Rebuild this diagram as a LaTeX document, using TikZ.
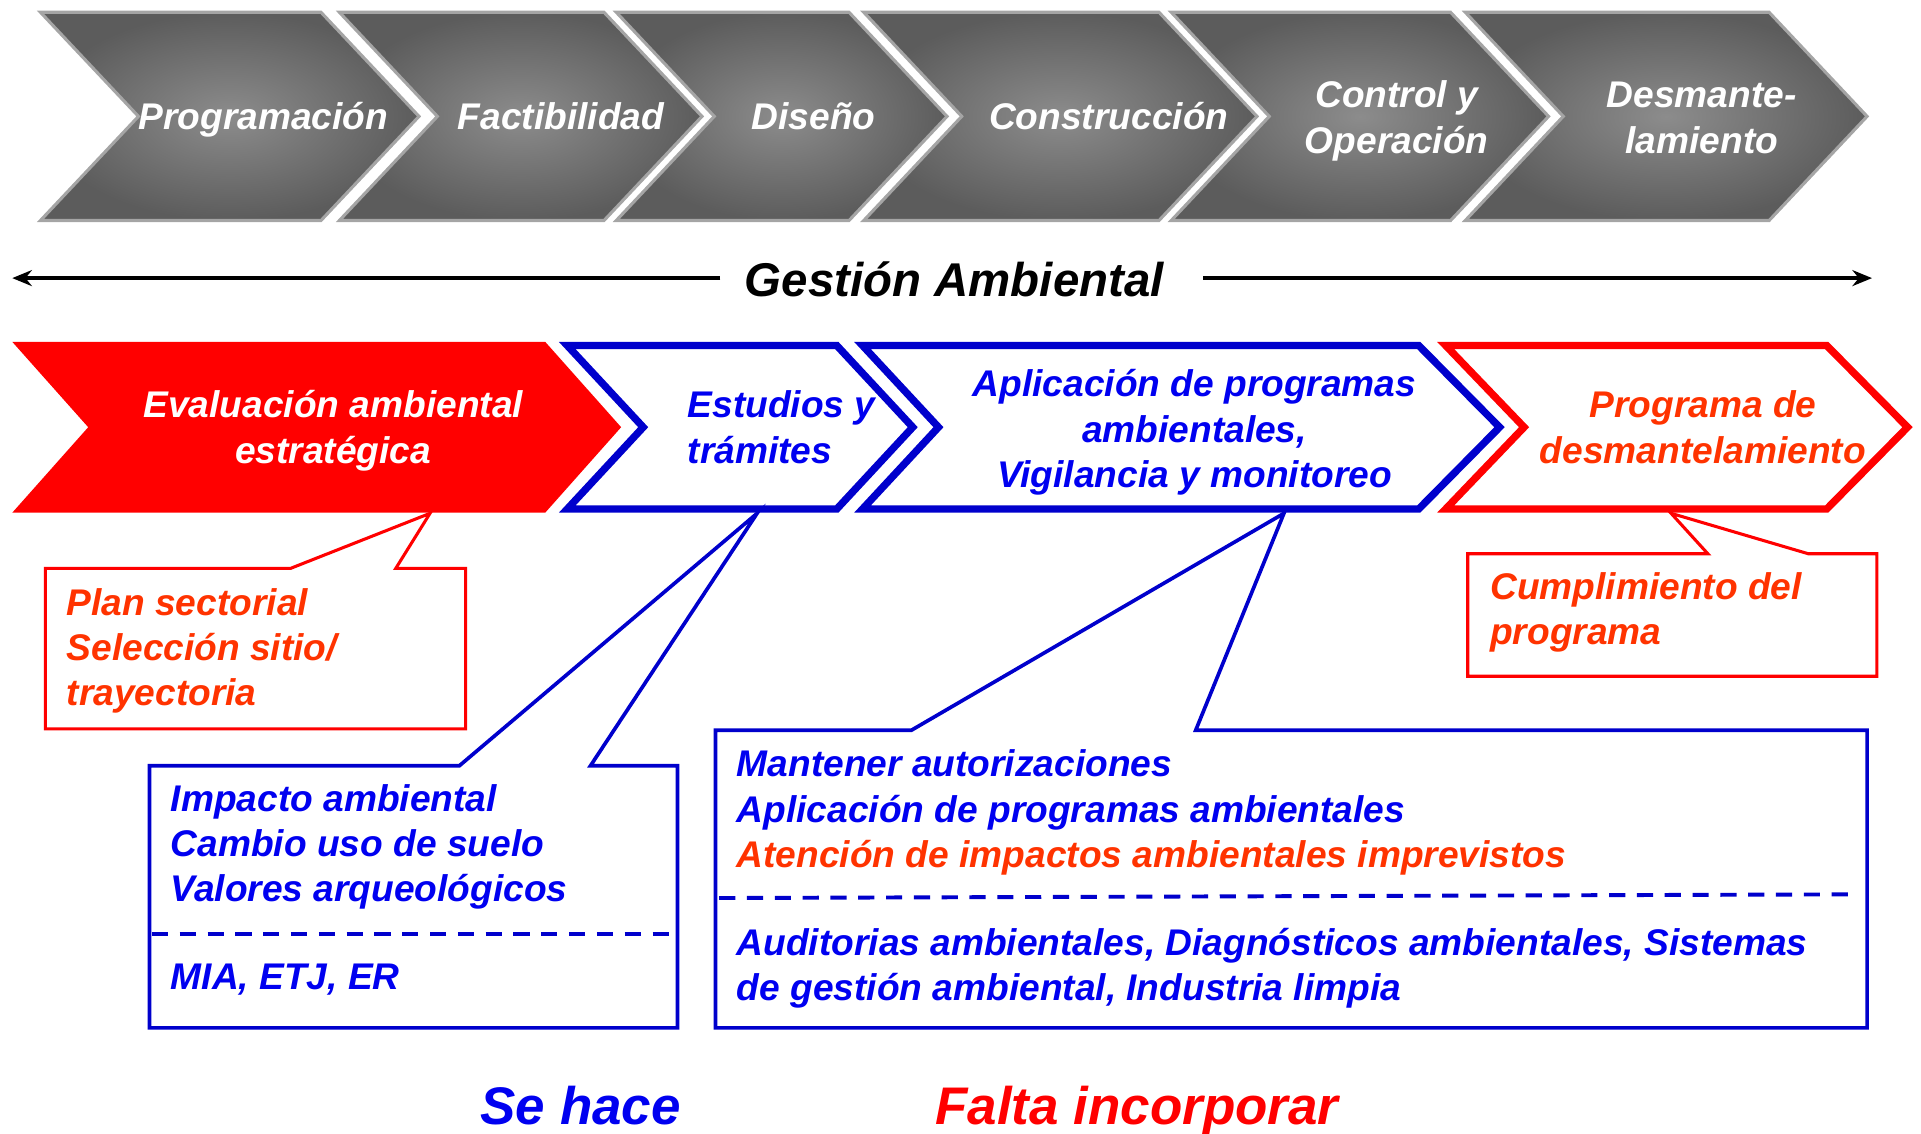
\documentclass[tikz,border=0pt]{standalone}
\usepackage{fontspec}
\setmainfont{Liberation Sans}
\usetikzlibrary{arrows.meta}
\definecolor{btext}{RGB}{0,0,240}
\definecolor{bline}{RGB}{0,0,204}
\definecolor{otext}{RGB}{255,51,0}
\definecolor{rfill}{RGB}{255,0,0}
\definecolor{ginner}{RGB}{140,140,140}
\definecolor{gouter}{RGB}{92,92,92}
\definecolor{gborder}{RGB}{165,165,165}
\tikzset{
  txt/.style={inner sep=0pt, font=\fontsize{15.15pt}{18.5pt}\selectfont\bfseries\itshape},
  graychev/.style={inner color=ginner, outer color=gouter, draw=gborder, line width=1.25pt, line join=miter},
  bluechev/.style={draw=bline, line width=3pt, line join=miter, fill=white},
  redchev/.style={draw=rfill, line width=3pt, line join=miter, fill=white},
  bluecall/.style={draw=bline, line width=1.5pt, line join=miter, fill=white},
  redcall/.style={draw=rfill, line width=1.25pt, line join=miter, fill=white},
  dashsep/.style={draw=bline, line width=1.6pt, dash pattern=on 6.6pt off 4.75pt},
  garrow/.style={draw=black, line width=1.5pt, -{Stealth[length=8pt,width=6.5pt]}}
}
\begin{document}
\begin{tikzpicture}[x=0.5pt,y=-0.5pt]
\useasboundingbox (0,0) rectangle (1568,925);
% top gray chevrons
\shadedraw[graychev] (33,10) -- (262,10) -- (342,95) -- (262,180) -- (33,180) -- (113,95) -- cycle;
\shadedraw[graychev] (277,10) -- (493,10) -- (573,95) -- (493,180) -- (277,180) -- (357,95) -- cycle;
\shadedraw[graychev] (503,10) -- (693,10) -- (773,95) -- (693,180) -- (503,180) -- (583,95) -- cycle;
\shadedraw[graychev] (705,10) -- (946,10) -- (1026,95) -- (946,180) -- (705,180) -- (785,95) -- cycle;
\shadedraw[graychev] (956,10) -- (1184,10) -- (1264,95) -- (1184,180) -- (956,180) -- (1036,95) -- cycle;
\shadedraw[graychev] (1196,10) -- (1444,10) -- (1524,95) -- (1444,180) -- (1196,180) -- (1276,95) -- cycle;
\node[txt, text=white, anchor=base] (p1) at (215,106) {Programación};
\node[txt, text=white, anchor=base] (p2) at (458,106) {Factibilidad};
\node[txt, text=white, anchor=base] (p3) at (664,106) {Diseño};
\node[txt, text=white, anchor=base] (p4) at (905,106) {Construcción};
\node[txt, text=white, anchor=base, align=center] (p5) at (1140,125) {Control y\\Operación};
\node[txt, text=white, anchor=base, align=center] (p6) at (1389,125) {Desmante-\\lamiento};
% Gestion ambiental
\node[inner sep=0pt, font=\fontsize{19.35pt}{23pt}\selectfont\bfseries\itshape, anchor=base] (gest) at (779,242) {Gestión Ambiental};
\coordinate (ga) at (588,227);
\coordinate (gl) at (10,227);
\coordinate (gb) at (982,227);
\coordinate (gr) at (1528,227);
\draw[garrow] (ga) -- (gl);
\draw[garrow] (gb) -- (gr);
% bottom chevrons
\fill[rfill] (10,279) -- (445,279) -- (507,348.7) -- (445,418.5) -- (10,418.5) -- (72,348.7) -- cycle;
\draw[bluechev] (463,282) -- (683,282) -- (745,348.7) -- (683,415.5) -- (463,415.5) -- (525,348.7) -- cycle;
\draw[bluechev] (704,282) -- (1158,282) -- (1224,348.7) -- (1158,415.5) -- (704,415.5) -- (766,348.7) -- cycle;
\draw[redchev] (1180,282) -- (1491,282) -- (1557,348.7) -- (1491,415.5) -- (1180,415.5) -- (1244,348.7) -- cycle;
\node[txt, text=white, anchor=base, align=center] (eae) at (272,378) {Evaluación ambiental\\estratégica};
\node[txt, text=btext, anchor=base west, align=left] (est) at (561,378) {Estudios y\\trámites};
\node[txt, text=btext, anchor=base, align=center] (apl) at (975,398) {Aplicación de programas\\ambientales,\\Vigilancia y monitoreo};
\node[txt, text=otext, anchor=base, align=center] (pdd) at (1390,378) {Programa de\\desmantelamiento};
% callouts
\coordinate (ap1) at (351,419);
\coordinate (ap2) at (618,419);
\coordinate (ap3) at (1048,419);
\coordinate (ap4) at (1364,419);
\draw[redcall] (37,464) -- (237,464) -- (ap1) -- (323,464) -- (380,464) -- (380,595) -- (37,595) -- cycle;
\draw[bluecall] (122,625) -- (375,625) -- (ap2) -- (482,625) -- (553,625) -- (553,839) -- (122,839) -- cycle;
\draw[bluecall] (584,596) -- (744,596) -- (ap3) -- (976,596) -- (1524,596) -- (1524,839) -- (584,839) -- cycle;
\draw[redcall] (1198,452) -- (1394,452) -- (ap4) -- (1476,452) -- (1532,452) -- (1532,552) -- (1198,552) -- cycle;
\coordinate (d1a) at (124,762);
\coordinate (d1b) at (551,762);
\coordinate (d2a) at (587,733);
\coordinate (d2b) at (1516,730);
\draw[dashsep] (d1a) -- (d1b);
\draw[dashsep] (d2a) -- (d2b);
\node[txt, text=otext, anchor=base west, align=left] (plan) at (54,576) {Plan sectorial\\Selección sitio/\\trayectoria};
\node[txt, text=btext, anchor=base west, align=left] (imp) at (139,736) {Impacto ambiental\\Cambio uso de suelo\\Valores arqueológicos};
\node[txt, text=btext, anchor=base west, align=left] (mia) at (139,808) {MIA, ETJ, ER};
\node[txt, text=btext, anchor=base west, align=left] (man) at (601,708) {Mantener autorizaciones\\Aplicación de programas ambientales\\\textcolor{otext}{Atención de impactos ambientales imprevistos}};
\node[txt, text=btext, anchor=base west, align=left] (aud) at (601,817) {Auditorias ambientales, Diagnósticos ambientales, Sistemas\\de gestión ambiental, Industria limpia};
\node[txt, text=otext, anchor=base west, align=left] (cum) at (1216,526) {Cumplimiento del\\programa};
% bottom labels
\node[inner sep=0pt, font=\fontsize{21.6pt}{26pt}\selectfont\bfseries\itshape, text=btext, anchor=base] (se) at (474,918) {Se hace};
\node[inner sep=0pt, font=\fontsize{21.6pt}{26pt}\selectfont\bfseries\itshape, text=rfill, anchor=base] (fi) at (928,918) {Falta incorporar};
\end{tikzpicture}
\end{document}
